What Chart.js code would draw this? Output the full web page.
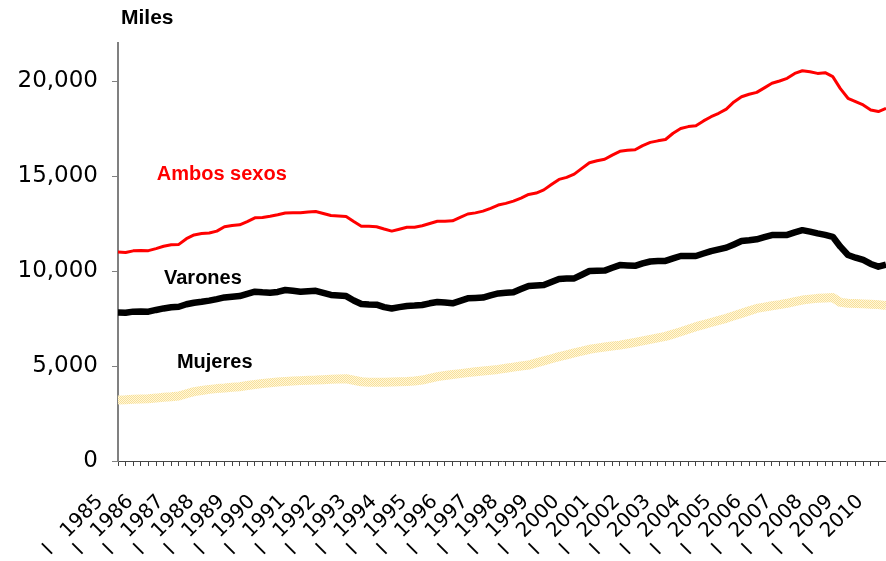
<!DOCTYPE html>
<html lang="es">
<head>
  <meta charset="UTF-8"/>
  <title>Ocupados por sexo</title>
  <script src="https://cdn.jsdelivr.net/npm/chart.js"></script>
  <style>
    html, body { margin: 0; padding: 0; background: #fff; }
    #wrap { position: relative; width: 886px; height: 561px; }
  </style>
</head>
<body>
  <div id="wrap"><canvas id="grafico"></canvas></div>

  <script>
    // años y trimestres (1985 I .. 2010 II)
    const years = [1985, 1986, 1987, 1988, 1989, 1990, 1991, 1992, 1993, 1994, 1995, 1996, 1997,
                   1998, 1999, 2000, 2001, 2002, 2003, 2004, 2005, 2006, 2007, 2008, 2009, 2010];
    const quarters = ["I", "II", "III", "IV"];

    // ocupados, miles
    const ambos = [11000,10970,11060,11080,11070,11180,11300,11380,11400,11700,
                   11900,11970,12000,12100,12330,12400,12430,12600,12800,12820,
                   12880,12960,13050,13060,13060,13100,13130,13030,12920,12900,
                   12870,12600,12350,12350,12330,12210,12100,12200,12300,12300,
                   12380,12500,12620,12620,12640,12820,13000,13060,13150,13300,
                   13470,13560,13680,13840,14030,14100,14270,14550,14820,14930,
                   15100,15400,15700,15800,15880,16100,16300,16360,16380,16600,
                   16770,16850,16920,17250,17500,17600,17650,17900,18120,18300,
                   18520,18900,19170,19300,19400,19640,19880,20000,20140,20400,
                   20540,20490,20400,20440,20230,19600,19090,18910,18740,18470,
                   18390,18560];
    const varones = [7810,7800,7860,7870,7860,7950,8030,8090,8120,8250,
                     8330,8380,8440,8520,8610,8650,8680,8800,8910,8880,
                     8860,8900,9000,8960,8910,8940,8960,8850,8740,8710,
                     8680,8450,8260,8240,8230,8100,8030,8100,8160,8180,
                     8210,8300,8370,8340,8300,8430,8560,8580,8600,8720,
                     8820,8850,8880,9050,9210,9240,9260,9420,9580,9600,
                     9610,9800,10000,10010,10020,10170,10310,10290,10270,10400,
                     10500,10520,10530,10660,10790,10790,10790,10920,11050,11140,
                     11230,11400,11580,11620,11670,11780,11890,11890,11900,12030,
                     12150,12070,11980,11900,11800,11280,10840,10700,10580,10370,
                     10230,10340];
    const mujeres = [3210,3220,3245,3260,3280,3310,3350,3380,3420,3540,
                     3650,3710,3770,3810,3840,3880,3910,3970,4030,4080,
                     4120,4160,4190,4210,4230,4250,4260,4280,4300,4320,
                     4330,4250,4170,4150,4140,4150,4160,4170,4180,4210,
                     4260,4350,4440,4500,4550,4600,4650,4700,4740,4780,
                     4820,4880,4940,5000,5050,5160,5270,5380,5490,5590,
                     5690,5780,5880,5940,6000,6050,6100,6170,6240,6320,
                     6400,6480,6560,6680,6800,6930,7070,7180,7290,7400,
                     7510,7640,7770,7900,8030,8100,8170,8230,8300,8390,
                     8470,8520,8560,8580,8600,8350,8300,8290,8270,8250,
                     8230,8180];

    const yTicks = [0, 5000, 10000, 15000, 20000];

    // rótulos de las series: [texto, color, trimestre, valor]
    const seriesLabels = [
      ["Ambos sexos", "#FF0000", 5.1, 15100],
      ["Varones", "#000000", 6.05, 9630],
      ["Mujeres", "#000000", 7.75, 5160]
    ];

    const labels = [];
    years.forEach(y => quarters.forEach(q => labels.push(q + " " + y)));
    labels.length = ambos.length;

    // trama punteada amarilla para la línea de mujeres
    function tramaMujeres() {
      const c = document.createElement("canvas");
      c.width = 4; c.height = 4;
      const g = c.getContext("2d");
      g.fillStyle = "#FFF7DC";
      g.fillRect(0, 0, 4, 4);
      g.fillStyle = "#F8E099";
      [[0,0],[2,0],[1,1],[3,1],[0,2],[2,2],[1,3],[3,3]].forEach(([x, y]) => g.fillRect(x, y, 1, 1));
      return g.createPattern(c, "repeat");
    }

    const axisFont = "'DejaVu Sans', Verdana, sans-serif";
    const textFont = "'Liberation Sans', Arial, sans-serif";

    const rotulos = {
      id: "rotulos",
      afterDraw(chart) {
        const { ctx, chartArea, scales: { x, y } } = chart;
        ctx.save();
        ctx.textAlign = "left";
        ctx.textBaseline = "middle";
        ctx.font = "bold 20px " + textFont;
        seriesLabels.forEach(([txt, col, q, v]) => {
          ctx.fillStyle = col;
          ctx.fillText(txt, x.getPixelForValue(q), y.getPixelForValue(v));
        });
        ctx.fillStyle = "#000";
        ctx.font = "bold 21px " + textFont;
        ctx.fillText("Miles", chartArea.left + 3, chartArea.top - 25);
        ctx.restore();
      }
    };

    const ctx = document.getElementById("grafico").getContext("2d");
    new Chart(ctx, {
      type: "line",
      data: {
        labels: labels,
        datasets: [
          { label: "Ambos sexos", data: ambos, borderColor: "#FF0000", borderWidth: 3 },
          { label: "Varones", data: varones, borderColor: "#000000", borderWidth: 6.5 },
          { label: "Mujeres", data: mujeres, borderColor: tramaMujeres(), borderWidth: 9 }
        ]
      },
      options: {
        responsive: true,
        maintainAspectRatio: false,
        animation: false,
        layout: { padding: { top: 43, left: 0, right: 0, bottom: 0 } },
        elements: { point: { radius: 0 }, line: { tension: 0, borderJoinStyle: "round" } },
        plugins: { legend: { display: false }, tooltip: { enabled: false } },
        scales: {
          x: {
            type: "category",
            offset: false,
            grid: { drawOnChartArea: false, tickLength: 5, tickColor: "#444", offset: false },
            border: { color: "#444", width: 1 },
            ticks: {
              autoSkip: false,
              minRotation: 45,
              maxRotation: 45,
              labelOffset: -18,
              padding: 24,
              color: "#000",
              font: { family: axisFont, size: 20 },
              callback: (v, i) => (i % 4 === 0 ? "I   " + years[i / 4] : "")
            },
            afterFit(s) { s.height = 100; s.paddingLeft = 0; s.paddingRight = 0; }
          },
          y: {
            min: 0,
            max: 22000,
            afterBuildTicks(s) { s.ticks = yTicks.map(v => ({ value: v })); },
            grid: { drawOnChartArea: false, tickLength: 6, tickColor: "#808080" },
            border: { color: "#808080", width: 2 },
            ticks: {
              padding: 14,
              color: "#000",
              font: { family: axisFont, size: 23 },
              callback: v => v.toLocaleString("en-US")
            },
            afterFit(s) { s.width = 118; s.paddingTop = 0; s.paddingBottom = 0; }
          }
        }
      },
      plugins: [rotulos]
    });
  </script>
</body>
</html>
